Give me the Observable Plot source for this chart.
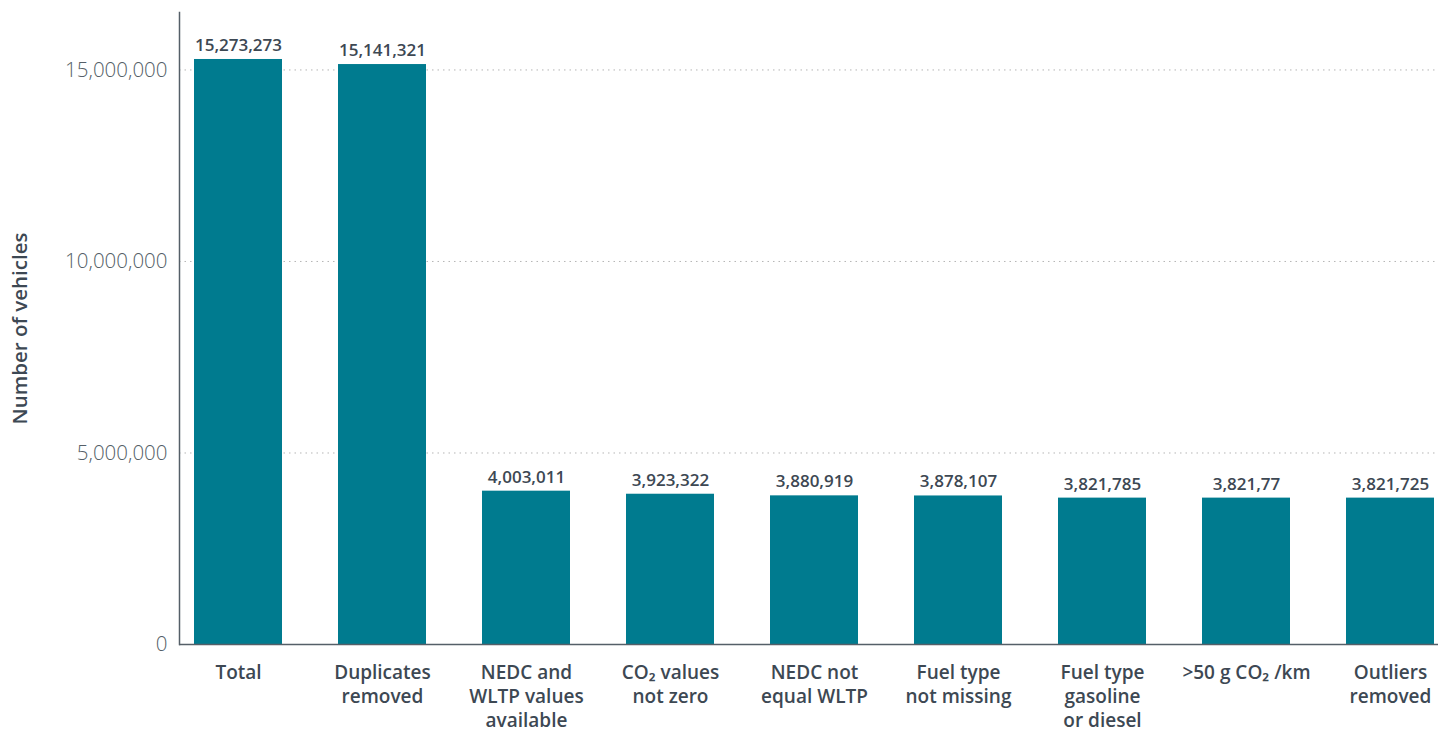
<!DOCTYPE html>
<html>
<head>
<meta charset="utf-8">
<script src="https://cdn.jsdelivr.net/npm/d3@7"></script>
<script src="https://cdn.jsdelivr.net/npm/@observablehq/plot@0.6"></script>
<style>
  html, body { margin: 0; padding: 0; background: #fff; }
  #chart { width: 1438px; height: 733px; }
</style>
</head>
<body>
<div id="chart"></div>
<script>
const categories = [
  "Total",
  "Duplicates removed",
  "NEDC and WLTP values available",
  "CO2 values not zero",
  "NEDC not equal WLTP",
  "Fuel type not missing",
  "Fuel type gasoline or diesel",
  ">50 g CO2 /km",
  "Outliers removed"
];
const tickLabels = [
  "Total",
  "Duplicates\nremoved",
  "NEDC and\nWLTP values\navailable",
  "CO\u2082 values\nnot zero",
  "NEDC not\nequal WLTP",
  "Fuel type\nnot missing",
  "Fuel type\ngasoline\nor diesel",
  ">50 g CO\u2082 /km",
  "Outliers\nremoved"
];
const values = [15273273, 15141321, 4003011, 3923322, 3880919, 3878107, 3821785, 3821770, 3821725];
const valueLabels = ["15,273,273", "15,141,321", "4,003,011", "3,923,322", "3,880,919", "3,878,107", "3,821,785", "3,821,77", "3,821,725"];
const yTicks = [0, 5000000, 10000000, 15000000];

const data = categories.map((c, i) => ({cat: c, value: values[i], label: valueLabels[i]}));
const tickMap = new Map(categories.map((c, i) => [c, tickLabels[i]]));

const font = "'Open Sans', Lato, sans-serif";
const ink = "#3d4853";

const chart = Plot.plot({
  width: 1438,
  height: 733,
  marginTop: 12,
  marginBottom: 89,
  marginLeft: 179,
  marginRight: 0,
  style: {fontFamily: font, color: ink, background: "#fff"},
  x: {domain: categories, paddingInner: 0.39, paddingOuter: 0.066, align: 0.79, label: null},
  y: {domain: [0, 16500000], label: null},
  marks: [
    Plot.gridY(yTicks.slice(1), {stroke: "#b5b5b5", strokeOpacity: 1, strokeDasharray: "1.5,4"}),
    Plot.barY(data, {x: "cat", y: "value", fill: "#007b8f"}),
    Plot.text(data, {x: "cat", y: "value", text: "label", dy: -14, fontSize: 17, fontWeight: 600, fill: ink}),
    Plot.axisY(yTicks, {tickSize: 0, tickPadding: 12, tickFormat: d3.format(","), fontSize: 20.5, fontWeight: 300, fill: "#555f68", label: null}),
    Plot.axisX({tickSize: 0, tickPadding: 17, tickFormat: d => tickMap.get(d), fontSize: 19, fontWeight: 600, lineHeight: 1.28, fill: ink, label: null}),
    Plot.ruleY([0], {stroke: "#555f68", strokeWidth: 1.5}),
    Plot.frame({anchor: "left", stroke: "#555f68", strokeWidth: 1.5}),
    Plot.text(["Number of vehicles"], {frameAnchor: "left", rotate: -90, textAnchor: "middle", dx: -159, fontSize: 20.5, fontWeight: 600, fill: ink})
  ]
});
document.getElementById("chart").appendChild(chart);
</script>
</body>
</html>
